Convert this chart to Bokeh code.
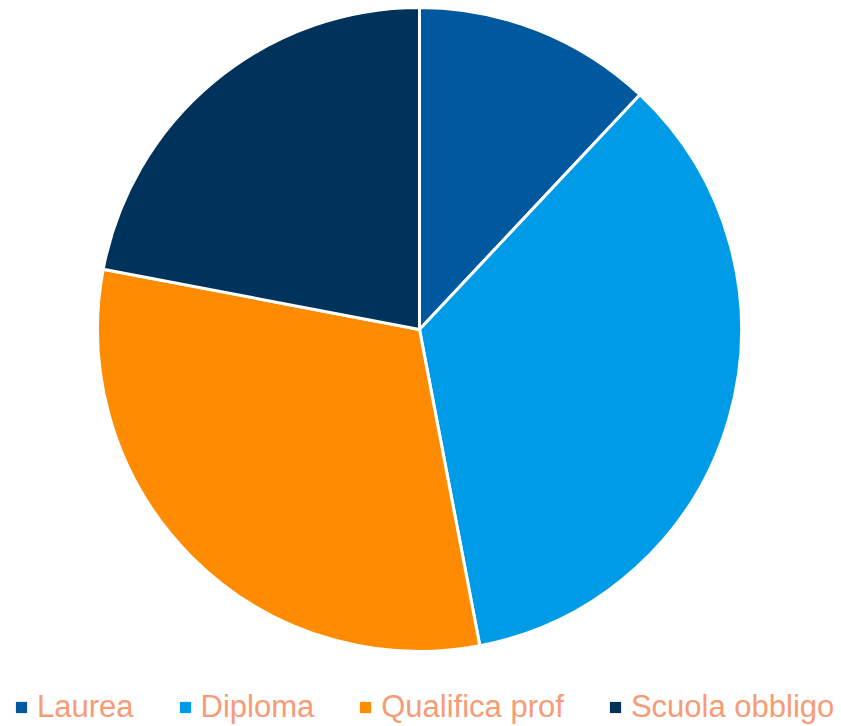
import math
from bokeh.plotting import figure
from bokeh.models import ColumnDataSource, Legend, LegendItem
from bokeh.embed import file_html
from bokeh.resources import INLINE

categories = ["Laurea", "Diploma", "Qualifica prof", "Scuola obbligo"]
values = [12, 35, 31, 22]
colors = ["#00599F", "#009BE6", "#FF8C00", "#00335C"]

total = float(sum(values))
starts, ends = [], []
cum = 0.0
for v in values:
    starts.append(math.pi / 2 - cum / total * 2 * math.pi)
    cum += v
    ends.append(math.pi / 2 - cum / total * 2 * math.pi)

src = ColumnDataSource(dict(cat=categories, val=values, color=colors, start=starts, end=ends))

W, H = 841, 726
p = figure(width=W, height=H, x_range=(0, W), y_range=(0, H),
           output_backend="svg", toolbar_location=None, min_border=0,
           outline_line_color=None, background_fill_color="white")
p.axis.visible = False
p.grid.visible = False

cx, cy, r = 419, 397, 322
p.wedge(x=cx, y=cy, radius=r, start_angle="start", end_angle="end", direction="clock",
        fill_color="color", line_color="white", line_width=3, source=src)

nan = float("nan")
items = []
for c, col in zip(categories, colors):
    q = p.quad(left=[nan], right=[nan], top=[nan], bottom=[nan], fill_color=col, line_color=None)
    items.append(LegendItem(label=c, renderers=[q]))

legend = Legend(items=items, orientation="horizontal", location=(14, 1),
                glyph_width=14, glyph_height=14, label_standoff=9, spacing=44,
                padding=0, margin=0, border_line_color=None, background_fill_alpha=0,
                label_text_font="Liberation Sans", label_text_font_size="31px",
                label_text_color="#F79B77", label_height=30)
p.add_layout(legend, "center")

open("out.html", "w").write(file_html(p, INLINE))
